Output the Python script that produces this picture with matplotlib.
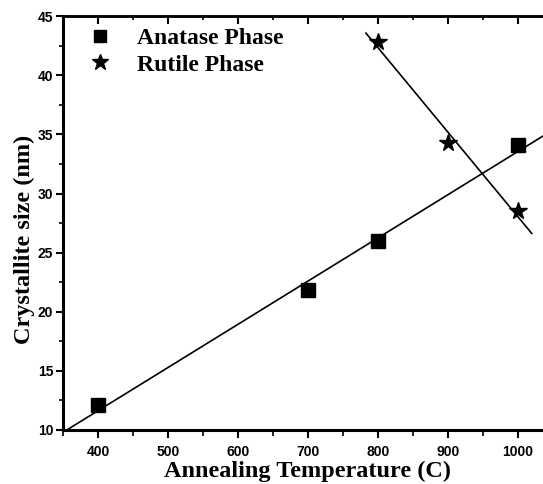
import numpy as np
import matplotlib.pyplot as plt
from matplotlib.ticker import MultipleLocator

# Crystallite size vs annealing temperature
anatase_temp = [400, 700, 800, 1000]
anatase_size = [12.1, 21.8, 26.0, 34.1]
rutile_temp = [800, 900, 1000]
rutile_size = [42.8, 34.3, 28.5]

SERIF = ["Liberation Serif", "DejaVu Serif"]
SANS = ["Liberation Sans", "DejaVu Sans"]

fig = plt.figure(figsize=(5.43, 4.84), dpi=100)
ax = fig.add_axes([0.116, 0.1116, 0.902, 0.855])

ax.plot(anatase_temp, anatase_size, "s", color="black", markersize=9.5, label="Anatase Phase")
ax.plot(rutile_temp, rutile_size, "*", color="black", markersize=13, label="Rutile Phase")

# linear fits
p = np.polyfit(anatase_temp, anatase_size, 1)
xa = np.array([350, 1050])
ax.plot(xa, np.polyval(p, xa), color="black", lw=1.2)
q = np.polyfit(rutile_temp, rutile_size, 1)
xr = np.array([783, 1020])
ax.plot(xr, np.polyval(q, xr), color="black", lw=1.2)

ax.set_xlim(350, 1050)
ax.set_ylim(10, 45)
ax.xaxis.set_major_locator(MultipleLocator(100))
ax.xaxis.set_minor_locator(MultipleLocator(50))
ax.yaxis.set_major_locator(MultipleLocator(5))
ax.yaxis.set_minor_locator(MultipleLocator(2.5))
ax.set_xticks(range(400, 1001, 100))

for s in ["left", "bottom"]:
    ax.spines[s].set_linewidth(2.2)
ax.spines["top"].set_linewidth(1.8)
ax.spines["right"].set_visible(False)

ax.tick_params(which="major", direction="out", length=5, width=1.5, pad=2)
ax.tick_params(which="minor", direction="out", length=3, width=1.2)
ax.tick_params(axis="x", which="major", length=6, pad=5)
ax.tick_params(axis="x", which="minor", length=4)
for lab in ax.get_xticklabels() + ax.get_yticklabels():
    lab.set_family(SANS)
    lab.set_fontweight("bold")
    lab.set_fontsize(10)

# top axis ticks pointing inward
top = ax.secondary_xaxis("top")
top.xaxis.set_major_locator(MultipleLocator(100))
top.xaxis.set_minor_locator(MultipleLocator(50))
top.tick_params(which="major", direction="in", length=6, width=1.5, labeltop=False)
top.tick_params(which="minor", direction="in", length=3, width=1.2)
top.spines["top"].set_linewidth(1.8)

ax.set_xlabel("Annealing Temperature (C)", family=SERIF, fontweight="bold", fontsize=17.5, labelpad=1)
ax.set_ylabel("Crystallite size (nm)", family=SERIF, fontweight="bold", fontsize=17.5)
ax.yaxis.set_label_coords(-0.058, 0.46)

leg = ax.legend(loc="upper left", bbox_to_anchor=(0.036, 0.99), frameon=False,
                prop={"family": SERIF, "weight": "bold", "size": 17},
                handlelength=1.0, handletextpad=1.1, labelspacing=0.22,
                borderaxespad=0.0, borderpad=0.3, markerscale=0.9)

fig.savefig("out.png", dpi=100)
